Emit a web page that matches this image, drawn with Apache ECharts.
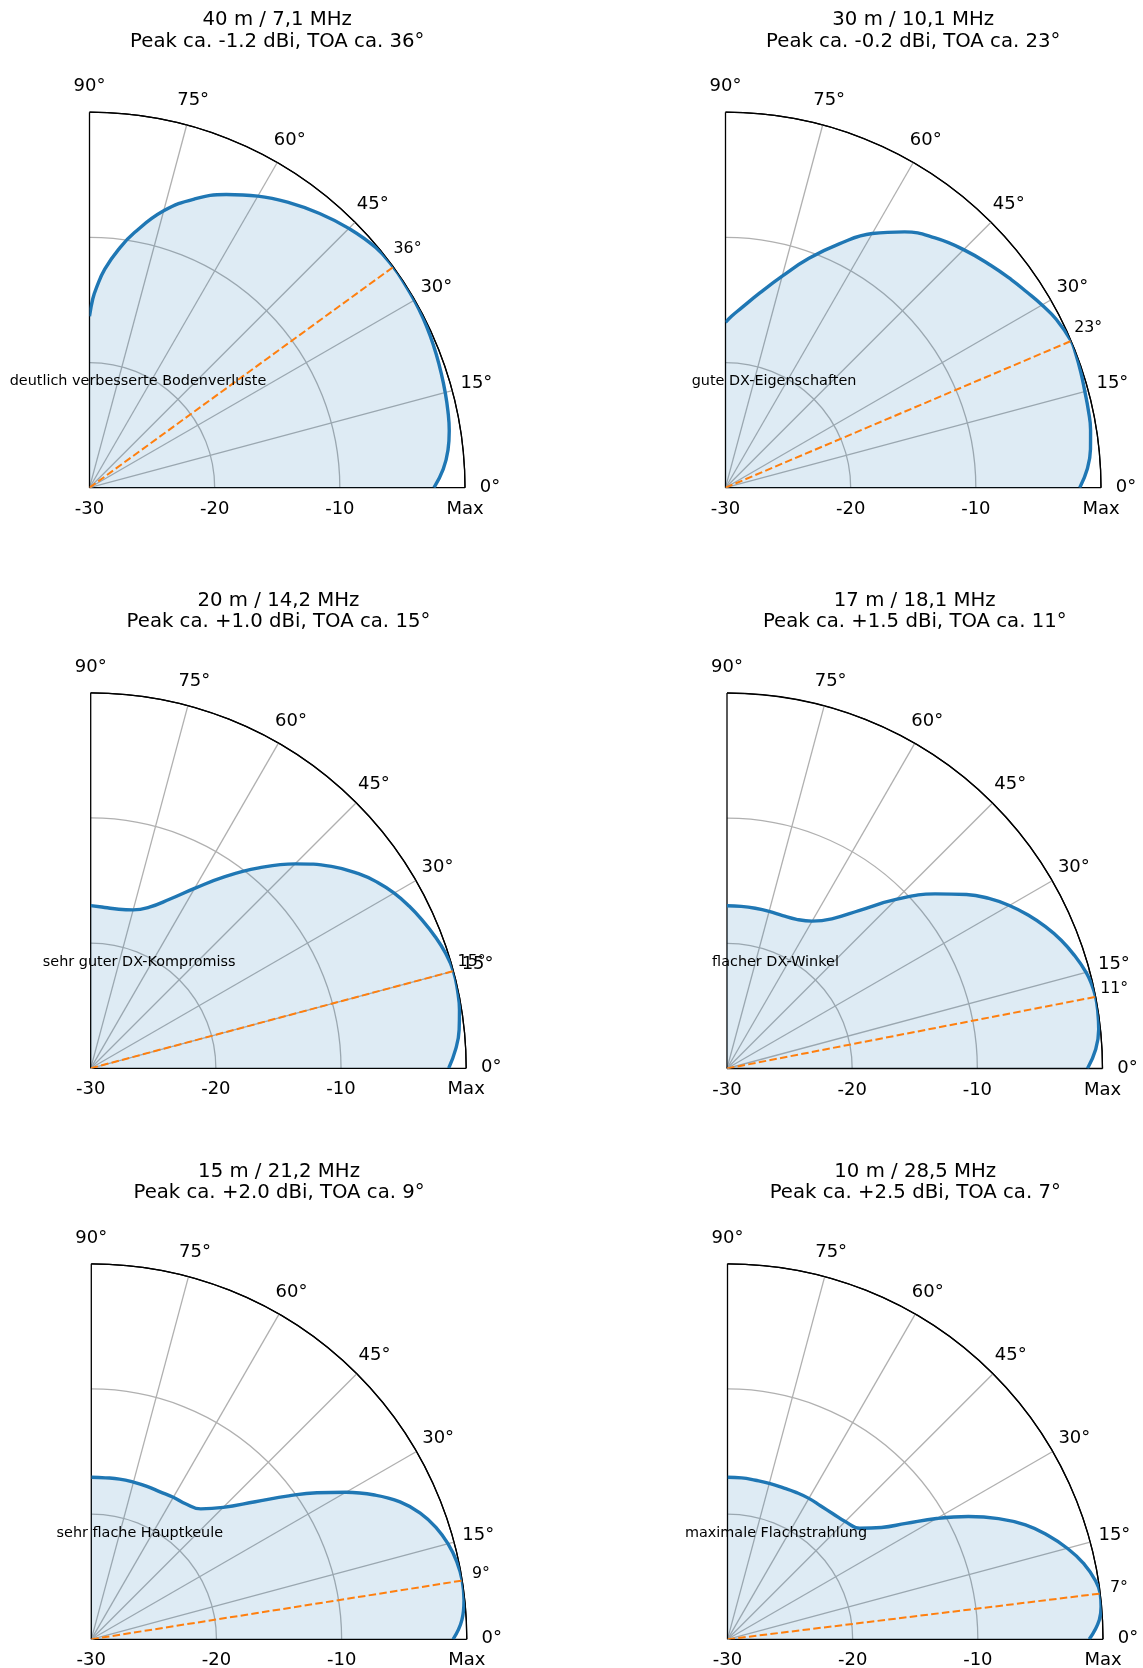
<!DOCTYPE html>
<html><head><meta charset="utf-8">
<style>html,body{margin:0;padding:0;background:#fff}#c{width:1143px;height:1668px}</style>
<script src="https://cdn.jsdelivr.net/npm/echarts@6/dist/echarts.min.js"></script>
</head><body><div id="c"></div>
<script>
// ---- data ----
const bands = ['40 m / 7,1 MHz', '30 m / 10,1 MHz', '20 m / 14,2 MHz', '17 m / 18,1 MHz', '15 m / 21,2 MHz', '10 m / 28,5 MHz'];
const peaks = ['-1.2', '-0.2', '+1.0', '+1.5', '+2.0', '+2.5'];
const toa = [36, 23, 15, 11, 9, 7];
const notes = ['deutlich verbesserte Bodenverluste', 'gute DX-Eigenschaften', 'sehr guter DX-Kompromiss', 'flacher DX-Winkel', 'sehr flache Hauptkeule', 'maximale Flachstrahlung'];

const ang40 = [0,3,6,9,12,15,18,21,24,27,30,33,36,40,45,50,55,60,65,70,75,80,83,86,88,89,90];
const db40  = [-2.48,-1.7,-1.2,-0.9,-0.72,-0.58,-0.45,-0.32,-0.2,-0.1,-0.04,-0.01,0,-0.15,-0.7,-1.4,-2.2,-3.1,-4.15,-5.45,-7.1,-9.3,-10.8,-12.5,-14.0,-14.9,-16.3];
const ang30 = [0,3,6,9,12,15,18,21,23,27,30,33,36,40,45,50,55,60,65,70,75,80,85,88,90];
const db30  = [-1.7,-1.05,-0.68,-0.47,-0.36,-0.28,-0.15,-0.04,0,-0.35,-0.8,-1.3,-1.75,-2.35,-3.1,-3.95,-5.05,-6.55,-8.5,-10.5,-12.5,-14.2,-15.6,-16.3,-16.8];
const ang20 = [0,3,6,9,12,15,18,21,24,27,30,33,36,40,45,50,55,60,65,70,75,80,85,90];
const db20  = [-1.4,-0.8,-0.4,-0.17,-0.04,0,-0.2,-0.55,-0.98,-1.45,-2.0,-2.7,-3.55,-4.9,-6.9,-9.1,-11.3,-13.4,-15.1,-16.3,-16.9,-17.1,-17.1,-17.0];
const ang17 = [0,3,6,9,11,13,15,18,21,24,27,30,33,36,40,45,50,55,60,65,70,75,80,85,90];
const db17  = [-1.2,-0.5,-0.14,-0.02,0,-0.1,-0.3,-0.8,-1.4,-2.15,-3.0,-3.95,-5.05,-6.35,-8.3,-10.9,-13.5,-15.4,-16.4,-16.85,-17.0,-17.0,-17.0,-17.0,-17.0];
const ang15 = [0,3,6,9,12,15,18,21,24,27,30,33,36,40,45,50,55,60,65,70,75,80,85,90];
const db15  = [-1.1,-0.35,-0.06,0,-0.15,-0.5,-1.05,-1.85,-3.0,-4.6,-6.5,-8.5,-10.5,-12.9,-15.1,-16.4,-16.8,-16.9,-17.0,-17.0,-17.0,-17.0,-17.05,-17.05];
const ang10 = [0,3,5,7,9,12,15,18,21,24,27,30,33,36,40,45,50,55,60,65,70,75,80,85,90];
const db10  = [-1.1,-0.25,-0.04,0,-0.22,-0.9,-1.9,-3.1,-4.5,-6.3,-8.4,-10.7,-13.0,-14.8,-16.2,-16.7,-16.9,-17.0,-17.0,-17.05,-17.1,-17.1,-17.1,-17.05,-17.05];

const angleTicks = [0, 15, 30, 45, 60, 75, 90];
const angleTickLabels = ['0°', '15°', '30°', '45°', '60°', '75°', '90°'];
const radiusTicks = [-30, -20, -10, 0];
const radiusTickLabels = ['-30', '-20', '-10', 'Max'];

const angs = [ang40, ang30, ang20, ang17, ang15, ang10];
const dbs = [db40, db30, db20, db17, db15, db10];

// ---- layout ----
const centers = [[89.5, 487.7], [725.5, 487.7], [90.7, 1068.3], [727, 1068.5], [91.3, 1639.3], [727.5, 1639.3]];
const R = 375.5;
const LABEL_R = 2;          // dB beyond Max where angle labels sit
const FONT = '"DejaVu Sans", sans-serif';

const chart = echarts.init(document.getElementById('c'), null, {renderer: 'canvas'});

const polar = [], angleAxis = [], radiusAxis = [], series = [], graphic = [];
const spokeColors = ['#000', '#b0b0b0', '#b0b0b0', '#b0b0b0', '#b0b0b0', '#b0b0b0', '#000'];
const ringColors = ['rgba(0,0,0,0)', '#b0b0b0', '#b0b0b0', '#000'];

function labelSeries(i, data, texts, size, offset) {
  return {
    type: 'scatter', coordinateSystem: 'polar', polarIndex: i, silent: true, clip: false,
    symbolSize: 1, itemStyle: {color: 'rgba(0,0,0,0)', opacity: 1}, z: 5,
    data: data,
    label: {show: true, position: 'top', distance: 0, offset: offset, opacity: 1,
      formatter: p => texts[p.dataIndex], textBorderWidth: 0,
      fontFamily: FONT, fontSize: size, color: '#000', align: 'center', verticalAlign: 'middle'}
  };
}

centers.forEach((c, i) => {
  polar.push({center: [c[0], c[1]], radius: R});
  angleAxis.push({
    polarIndex: i, type: 'value', min: 0, max: 90, interval: 15,
    startAngle: 0, endAngle: 90, clockwise: false,
    axisLine: {show: true, lineStyle: {color: '#000', width: 1.2}},
    axisTick: {show: false}, axisLabel: {show: false},
    splitLine: {show: true, lineStyle: {color: spokeColors, width: 1.3}}
  });
  radiusAxis.push({
    polarIndex: i, type: 'value', min: -30, max: 0, interval: 10,
    axisLine: {show: false}, axisTick: {show: false}, axisLabel: {show: false},
    splitLine: {show: true, lineStyle: {color: ringColors, width: 1.3}}
  });
  // pattern
  series.push({
    type: 'line', coordinateSystem: 'polar', polarIndex: i, silent: true,
    data: angs[i].map((a, k) => [dbs[i][k], a]), symbol: 'none', smooth: 0.45, z: 3,
    lineStyle: {color: '#1f77b4', width: 3.4},
    areaStyle: {color: '#1f77b4', opacity: 0.15, origin: 'start'}
  });
  // TOA dashed line
  series.push({
    type: 'line', coordinateSystem: 'polar', polarIndex: i, silent: true,
    data: [[-30, toa[i]], [0, toa[i]]], symbol: 'none', z: 4,
    lineStyle: {color: '#ff7f0e', width: 2, type: [7.5, 3.3]}
  });
  // angle tick labels
  series.push(labelSeries(i, angleTicks.map(a => [LABEL_R, a]), angleTickLabels, 18, [0, 0]));
  // TOA label
  series.push(labelSeries(i, [[LABEL_R, toa[i]]], [toa[i] + '°'], 15.8, [-6, -2.5]));
  // radius tick labels
  series.push(labelSeries(i, radiusTicks.map(r => [r, 0]), radiusTickLabels, 18, [0, 22]));
  // title
  graphic.push({
    type: 'text', x: c[0] + R / 2, y: c[1] - R - 81.5, silent: true, z: 10,
    style: {text: bands[i] + '\n' + 'Peak ca. ' + peaks[i] + ' dBi, TOA ca. ' + toa[i] + '°',
      font: '19.7px ' + FONT, fill: '#000', lineHeight: 21.5,
      textAlign: 'center', textVerticalAlign: 'middle', align: 'center', verticalAlign: 'middle'}
  });
  // annotation
  graphic.push({
    type: 'text', x: c[0] + 48.5, y: c[1] - 106.5, silent: true, z: 10,
    style: {text: notes[i], font: '14.4px ' + FONT, fill: '#000',
      textAlign: 'center', textVerticalAlign: 'middle', align: 'center', verticalAlign: 'middle'}
  });
});

chart.setOption({
  animation: false,
  backgroundColor: '#fff',
  polar, angleAxis, radiusAxis, series, graphic
});
</script></body></html>
